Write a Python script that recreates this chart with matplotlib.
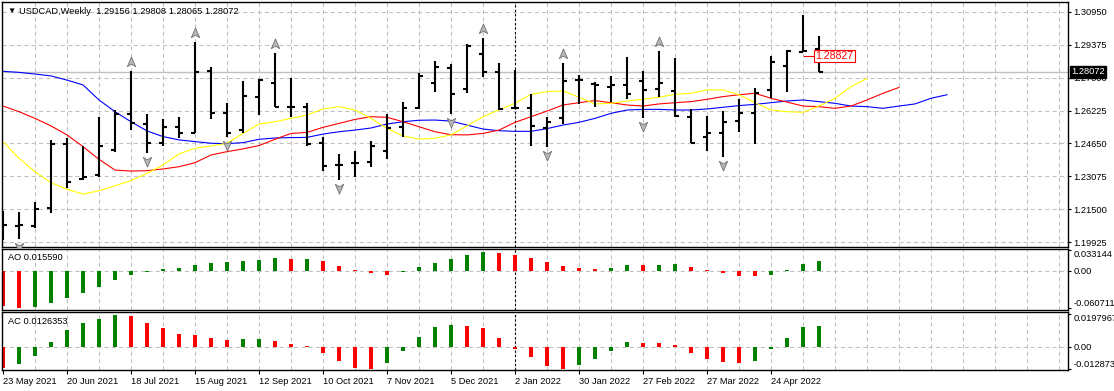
import matplotlib.pyplot as plt
import numpy as np
from matplotlib.path import Path
from matplotlib.transforms import ScaledTranslation, blended_transform_factory

plt.rcParams['font.family'] = ['Liberation Sans', 'DejaVu Sans']
plt.rcParams['font.size'] = 6.7

# weekly USDCAD bars, 23 May 2021 .. 15 May 2022
opens = [1.2070, 1.2072, 1.2072, 1.2158, 1.2461, 1.2295, 1.2314, 1.2434, 1.2604, 1.2557,
         1.2469, 1.2544, 1.2517, 1.2813, 1.2612, 1.2529, 1.2686, 1.2753, 1.2641, 1.2641,
         1.2469, 1.2364, 1.2370, 1.2378, 1.2431, 1.2545, 1.2636, 1.2753, 1.2824, 1.2724,
         1.2891, 1.2805, 1.2636, 1.2633, 1.2541, 1.2585, 1.2768, 1.2748, 1.2737, 1.2743,
         1.2765, 1.2724, 1.2717, 1.2590, 1.2494, 1.2517, 1.2574, 1.2609, 1.2721, 1.2837,
         1.2904, 1.29156]
highs = [1.2144, 1.2136, 1.2184, 1.2482, 1.2493, 1.2453, 1.2593, 1.2625, 1.2813, 1.2606,
         1.2582, 1.2590, 1.2949, 1.2832, 1.2657, 1.2764, 1.2773, 1.2896, 1.2776, 1.2657,
         1.2498, 1.2413, 1.2431, 1.2478, 1.2606, 1.2662, 1.2800, 1.2859, 1.2845, 1.2939,
         1.2968, 1.2848, 1.2816, 1.2702, 1.2593, 1.2848, 1.2792, 1.2760, 1.2788, 1.2880,
         1.2811, 1.2909, 1.2872, 1.2628, 1.2596, 1.2622, 1.2678, 1.2729, 1.2883, 1.2912,
         1.3079, 1.29808]
lows = [1.2003, 1.2007, 1.2059, 1.2131, 1.2254, 1.2290, 1.2306, 1.2426, 1.2529, 1.2421,
        1.2455, 1.2490, 1.2513, 1.2580, 1.2494, 1.2513, 1.2601, 1.2638, 1.2593, 1.2453,
        1.2335, 1.2290, 1.2303, 1.2351, 1.2389, 1.2494, 1.2628, 1.2713, 1.2606, 1.2705,
        1.2784, 1.2625, 1.2633, 1.2455, 1.2450, 1.2557, 1.2652, 1.2638, 1.2665, 1.2679,
        1.2588, 1.2689, 1.2590, 1.2469, 1.2431, 1.2402, 1.2521, 1.2461, 1.2681, 1.2713,
        1.2904, 1.28065]
closes = [1.2074, 1.2075, 1.2150, 1.2461, 1.2282, 1.2306, 1.2453, 1.2604, 1.2561, 1.2469,
          1.2544, 1.2513, 1.2808, 1.2612, 1.2513, 1.2694, 1.2768, 1.2641, 1.2638, 1.2462,
          1.2359, 1.2364, 1.2373, 1.2455, 1.2537, 1.2633, 1.2788, 1.2832, 1.2702, 1.2931,
          1.2808, 1.2630, 1.2636, 1.2550, 1.2568, 1.2765, 1.2768, 1.2743, 1.2743, 1.2702,
          1.2721, 1.2753, 1.2596, 1.2469, 1.2513, 1.2569, 1.2609, 1.2708, 1.2853, 1.2907,
          1.2909, 1.28072]

# alligator lines (already shifted forward 8 / 5 / 3 bars)
jaw = [1.2810, 1.2805, 1.2797, 1.2788, 1.2768, 1.2745, 1.2673, 1.2617, 1.2569, 1.2525,
       1.2498, 1.2482, 1.2474, 1.2466, 1.2464, 1.2469, 1.2485, 1.2491, 1.2493, 1.2494,
       1.2510, 1.2521, 1.2529, 1.2539, 1.2558, 1.2569, 1.2576, 1.2577, 1.2572, 1.2553,
       1.2534, 1.2526, 1.2523, 1.2523, 1.2536, 1.2553, 1.2566, 1.2585, 1.2609, 1.2625,
       1.2628, 1.2628, 1.2625, 1.2625, 1.2630, 1.2638, 1.2646, 1.2652, 1.2660, 1.2668,
       1.2673, 1.2665, 1.2657, 1.2644, 1.2641, 1.2633, 1.2644, 1.2654, 1.2681, 1.2698]
teeth = [1.2644, 1.2617, 1.2585, 1.2549, 1.2506, 1.2450, 1.2389, 1.2338, 1.2333, 1.2335,
         1.2343, 1.2354, 1.2373, 1.2410, 1.2426, 1.2439, 1.2455, 1.2485, 1.2513, 1.2518,
         1.2542, 1.2561, 1.2580, 1.2593, 1.2590, 1.2569, 1.2545, 1.2521, 1.2507, 1.2506,
         1.2513, 1.2529, 1.2566, 1.2593, 1.2620, 1.2649, 1.2660, 1.2670, 1.2660, 1.2649,
         1.2644, 1.2654, 1.2660, 1.2665, 1.2676, 1.2689, 1.2698, 1.2705, 1.2681, 1.2663,
         1.2644, 1.2641, 1.2633, 1.2644, 1.2673, 1.2705, 1.2733]
lips = [1.2474, 1.2394, 1.2330, 1.2278, 1.2246, 1.2223, 1.2239, 1.2263, 1.2287, 1.2322,
        1.2362, 1.2415, 1.2442, 1.2453, 1.2466, 1.2513, 1.2558, 1.2569, 1.2585, 1.2601,
        1.2630, 1.2641, 1.2625, 1.2585, 1.2537, 1.2501, 1.2486, 1.2490, 1.2506, 1.2549,
        1.2593, 1.2625, 1.2657, 1.2700, 1.2713, 1.2716, 1.2686, 1.2654, 1.2657, 1.2668,
        1.2676, 1.2686, 1.2700, 1.2705, 1.2721, 1.2721, 1.2698, 1.2660, 1.2625, 1.2617,
        1.2614, 1.2644, 1.2681, 1.2737, 1.2776]

ao = [-0.0575, -0.0607, -0.0596, -0.0526, -0.0446, -0.0365, -0.0269, -0.0156, -0.0075, -0.0027,
      0.0021, 0.0048, 0.0097, 0.0118, 0.0134, 0.0150, 0.0177, 0.0199, 0.0193, 0.0195,
      0.0150, 0.0081, 0.0016, -0.0043, -0.0064, -0.0027, 0.0054, 0.0129, 0.0193, 0.0258,
      0.0306, 0.0290, 0.0258, 0.0209, 0.0134, 0.0081, 0.0048, 0.0032, 0.0048, 0.0097,
      0.0095, 0.0099, 0.0113, 0.0064, 0.0016, -0.0043, -0.0081, -0.0091, -0.0064, 0.0016,
      0.0113, 0.015590]
ac = [-0.0126, -0.0100, -0.0052, 0.0030, 0.0102, 0.0144, 0.0168, 0.0190, 0.0185, 0.0141,
      0.0111, 0.0074, 0.0072, 0.0055, 0.0043, 0.0045, 0.0049, 0.0037, 0.0018, 0.0006,
      -0.0037, -0.0080, -0.0123, -0.0129, -0.0092, -0.0025, 0.0062, 0.0117, 0.0129, 0.0127,
      0.0111, 0.0055, -0.0012, -0.0062, -0.0111, -0.0129, -0.0105, -0.0074, -0.0025, 0.0031,
      0.0025, 0.0024, 0.0012, -0.0037, -0.0074, -0.0086, -0.0092, -0.0080, -0.0012, 0.0055,
      0.0117, 0.0126353]

fractal_up = [8, 12, 17, 30, 35, 41]
fractal_dn = [1, 9, 14, 21, 28, 34, 40, 45]

dates = ["23 May 2021", "20 Jun 2021", "18 Jul 2021", "15 Aug 2021", "12 Sep 2021",
         "10 Oct 2021", "7 Nov 2021", "5 Dec 2021", "2 Jan 2022", "30 Jan 2022",
         "27 Feb 2022", "27 Mar 2022", "24 Apr 2022"]
year_start = 32  # bar of 2 Jan 2022

price_ticks = [1.30950, 1.29375, 1.27800, 1.26225, 1.24650, 1.23075, 1.21500, 1.19925]
ao_ticks = [0.033144, 0.0, -0.060711]
ac_ticks = [0.0197967, 0.0, -0.0128734]
bid = 1.28072
level = 1.28827

W, H = 1114, 391
fig = plt.figure(figsize=(W / 100, H / 100), dpi=100)


def box(top, bottom):
    return [2 / W, 1 - bottom / H, 1066 / W, (bottom - top) / H]


ax = fig.add_axes(box(2, 247))
ax_ao = fig.add_axes(box(249, 310), sharex=ax)
ax_ac = fig.add_axes(box(312, 370), sharex=ax)

grid_col = '#c0c0c0'
grid_ls = (0, (4, 3))

for a in (ax, ax_ao, ax_ac):
    for gx in range(2, 67, 2):
        a.axvline(gx, color=grid_col, lw=0.75, ls=grid_ls, zorder=0)
    a.axvline(year_start, color='k', lw=0.8, ls=(0, (2, 2)), zorder=1)
    for s in a.spines.values():
        s.set_color('k')
        s.set_linewidth(1.0)
    a.yaxis.tick_right()
    a.tick_params(axis='y', direction='out', length=2.5, width=0.8, pad=1.5, labelsize=6.7)

x = np.arange(len(opens))

# main price panel
for p in price_ticks:
    ax.axhline(p, color=grid_col, lw=0.75, ls=grid_ls, zorder=0)
ax.axhline(bid, color='#c0c0c0', lw=1.0, zorder=1)

ax.plot(np.arange(len(jaw)), jaw, color='#0000ff', lw=0.8, zorder=2)
ax.plot(np.arange(len(teeth)), teeth, color='#ff0000', lw=0.8, zorder=2)
ax.plot(np.arange(len(lips)), lips, color='#ffff00', lw=0.8, zorder=2)

ax.vlines(x, lows, highs, color='k', lw=1.5, zorder=3)
ax.hlines(opens, x - 0.28, x, color='k', lw=1.5, zorder=3)
ax.hlines(closes, x, x + 0.28, color='k', lw=1.5, zorder=3)

arrow_up = Path([(0, 1), (0.75, -0.75), (0, -0.3), (-0.75, -0.75), (0, 1)],
                [Path.MOVETO, Path.LINETO, Path.LINETO, Path.LINETO, Path.CLOSEPOLY])
arrow_dn = Path([(0, -1), (0.75, 0.75), (0, 0.3), (-0.75, 0.75), (0, -1)],
                [Path.MOVETO, Path.LINETO, Path.LINETO, Path.LINETO, Path.CLOSEPOLY])
hi = np.array(highs)
lo = np.array(lows)
ax.plot(fractal_up, hi[fractal_up], ls='none', marker=arrow_up, ms=8,
        mfc='#b8b8b8', mec='#707070', mew=0.6, zorder=4,
        transform=ax.transData + ScaledTranslation(0, 9 / 100, fig.dpi_scale_trans))
ax.plot(fractal_dn, lo[fractal_dn], ls='none', marker=arrow_dn, ms=8,
        mfc='#b8b8b8', mec='#707070', mew=0.6, zorder=4,
        transform=ax.transData + ScaledTranslation(0, -8 / 100, fig.dpi_scale_trans))

ax.plot([50.05, 50.7], [level, level], color='#ff0000', lw=0.8, zorder=4)
ax.text(50.78, level, f"{level:.5f}", color='#ff0000', fontsize=7.6, va='center', ha='left',
        bbox=dict(fc='white', ec='#ff0000', lw=0.8, pad=0.8), zorder=5)

ax.set_ylim(1.19700, 1.31414)
ax.set_yticks(price_ticks)
ax.set_yticklabels([f"{p:.5f}" for p in price_ticks])
trans = blended_transform_factory(ax.transAxes, ax.transData)
ax.text(1 + 3 / 1066, bid, f"{bid:.5f}", transform=trans, color='white', va='center', ha='left',
        fontsize=6.7, bbox=dict(fc='black', ec='black', pad=1.0), zorder=10, clip_on=False)
ax.tick_params(axis='x', bottom=False, labelbottom=False)

# Awesome Oscillator
ao_col = ['#ff0000' if i == 0 or ao[i] < ao[i - 1] else '#008000' for i in range(len(ao))]
ax_ao.axhline(0, color=grid_col, lw=0.75, ls=grid_ls, zorder=0)
ax_ao.bar(x, ao, width=0.19, color=ao_col, linewidth=0, zorder=2)
ax_ao.set_ylim(-0.0644, 0.0354)
ax_ao.set_yticks(ao_ticks)
ax_ao.set_yticklabels(["0.033144", "0.00", "-0.060711"])
labs = ax_ao.get_yticklabels()
labs[0].set_va('top')
labs[2].set_va('bottom')
ax_ao.tick_params(axis='x', bottom=False, labelbottom=False)

# Accelerator Oscillator
ac_col = ['#ff0000' if i == 0 or ac[i] < ac[i - 1] else '#008000' for i in range(len(ac))]
ax_ac.axhline(0, color=grid_col, lw=0.75, ls=grid_ls, zorder=0)
ax_ac.bar(x, ac, width=0.19, color=ac_col, linewidth=0, zorder=2)
ax_ac.set_ylim(-0.01362, 0.02072)
ax_ac.set_yticks(ac_ticks)
ax_ac.set_yticklabels(["0.0197967", "0.00", "-0.0128734"])
labs = ax_ac.get_yticklabels()
labs[0].set_va('top')
labs[2].set_va('bottom')

ax_ac.set_xticks(np.arange(len(dates)) * 4)
ax_ac.set_xticklabels(dates, ha='left')
ax_ac.tick_params(axis='x', direction='out', length=3, width=0.8, pad=2, labelsize=6.7)
ax.set_xlim(-0.0625, 66.5625)

fig.text(7 / W, 1 - 11 / H, "\u25bc", fontsize=6, va='center', ha='left')
fig.text(19 / W, 1 - 11 / H, "USDCAD,Weekly  1.29156 1.29808 1.28065 1.28072", va='center', ha='left')
fig.text(8 / W, 1 - 257 / H, f"AO {ao[-1]:.6f}", va='center', ha='left')
fig.text(8 / W, 1 - 322 / H, f"AC {ac[-1]:.7f}", va='center', ha='left')

fig.savefig("out.png", dpi=100)
